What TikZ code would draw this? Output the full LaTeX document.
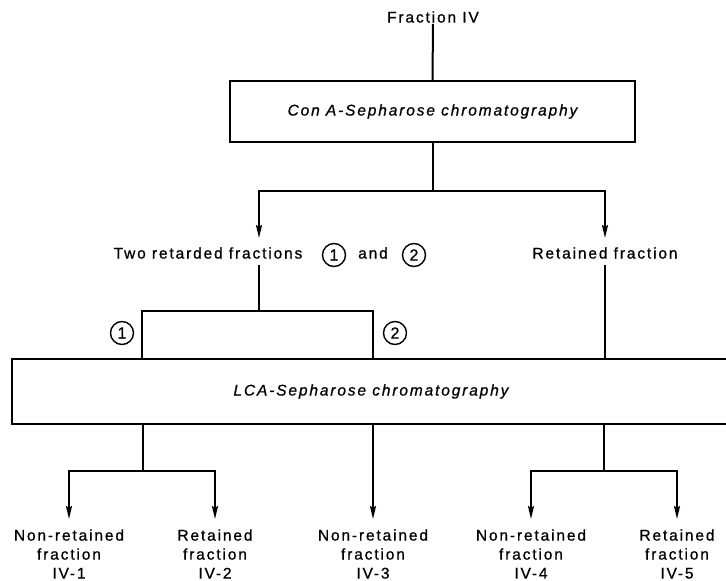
\documentclass[tikz,border=0pt]{standalone}
\usepackage{fontspec}
\setmainfont{Liberation Sans}[LetterSpace=12, FakeBold=0.8]
\usetikzlibrary{arrows.meta,calc}
\tikzset{
  lbl/.style={inner sep=1pt, font=\fontsize{15.5}{19}\selectfont, align=center},
  boxtxt/.style={draw, line width=2.2pt, inner sep=0pt, font=\fontsize{15.5}{19}\selectfont\itshape},
  num/.style={circle, draw, line width=1.4pt, minimum size=23pt, inner sep=0pt, font=\fontsize{16}{18}\selectfont},
  ln/.style={line width=2pt},
  arr/.style={line width=2pt, -{Stealth[length=13pt,width=6pt,inset=2pt]}}
}
\begin{document}
\begin{tikzpicture}[x=1pt,y=-1pt]
\clip (0,0) rectangle (726,581);
\fill[white] (0,0) rectangle (726,581);
% top
\node[lbl] (frac) at (433,17) {Fraction IV};
\node[boxtxt, minimum width=405pt, minimum height=61pt] (cona) at (432.5,111.5) {Con A-Sepharose chromatography};
\draw[ln] (frac.south) -- (cona.north);
% branch 1
\coordinate (b1) at ($(cona.south)+(0,48)$);
\coordinate (t1) at (259,238);
\coordinate (t2) at (605,238);
\draw[ln] (cona.south) -- (b1);
\draw[arr] (b1) -| (t1);
\draw[arr] (b1) -| (t2);
% middle labels
\node[lbl] (two) at (208,253) {Two retarded fractions};
\node[num] (c1) at (334,255) {1};
\node[lbl] (and) at (373,253) {and};
\node[num] (c2) at (414,255) {2};
\node[lbl] (ret) at (605,253) {Retained fraction};
% LCA box
\node[boxtxt, minimum width=718pt, minimum height=65pt] (lca) at (371,391.5) {LCA-Sepharose chromatography};
% small box
\coordinate (sb1) at (142,311);
\coordinate (sb2) at (373,311);
\coordinate (u1) at (259,265);
\draw[ln] (sb1 |- lca.north) -- (sb1) -- (sb2) -- (sb2 |- lca.north);
\draw[ln] (u1) -- (u1 |- sb1);
\node[num] (s1) at (122,333) {1};
\node[num] (s2) at (395,333) {2};
\coordinate (u2) at (605,265);
\draw[ln] (u2) -- (u2 |- lca.north);
% bottom
\node[lbl] (f1) at (69,554) {Non-retained\\fraction\\IV-1};
\node[lbl] (f2) at (215,554) {Retained\\fraction\\IV-2};
\node[lbl] (f3) at (373,554) {Non-retained\\fraction\\IV-3};
\node[lbl] (f4) at (531,554) {Non-retained\\fraction\\IV-4};
\node[lbl] (f5) at (677,554) {Retained\\fraction\\IV-5};
\coordinate (d1) at (143,471);
\coordinate (d2) at (604,471);
\coordinate (a1) at (69,519);
\coordinate (a2) at (215,519);
\coordinate (a3) at (373,519);
\coordinate (a4) at (531,519);
\coordinate (a5) at (677,519);
\draw[ln] (d1 |- lca.south) -- (d1);
\draw[arr] (d1) -| (a1);
\draw[arr] (d1) -| (a2);
\draw[arr] (a3 |- lca.south) -- (a3);
\draw[ln] (d2 |- lca.south) -- (d2);
\draw[arr] (d2) -| (a4);
\draw[arr] (d2) -| (a5);
\end{tikzpicture}
\end{document}
